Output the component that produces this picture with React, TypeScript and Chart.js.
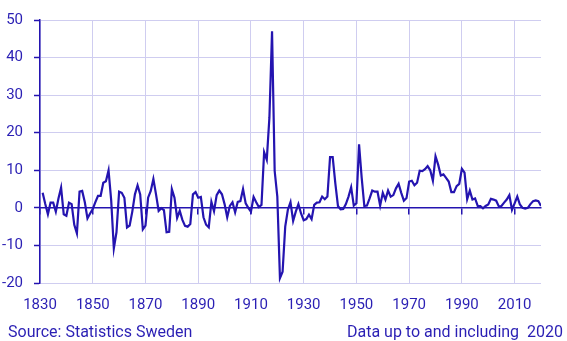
import React, { useEffect, useRef } from "react";
import { Chart, registerables } from "chart.js";

Chart.register(...registerables);

const BLUE = "#2414b0";
const TEXT = "#2a1fb4";
const GRID = "#cfcdf0";

const firstYear = 1831;
const tickYears = [1830, 1850, 1870, 1890, 1910, 1930, 1950, 1970, 1990, 2010];
const yTicks = [-20, -15, -10, -5, 0, 5, 10, 15, 20, 25, 30, 35, 40, 45, 50];

// Annual change in CPI (%), 1831–2020
const values1831_1880 = [
  4.0, 1.0, -1.7, 1.4, 1.4, -1.0, 2.5, 5.4, -1.7, -2.1,
  1.4, 1.0, -4.5, -6.8, 4.3, 4.5, 1.5, -2.8, -1.5, -0.3,
  1.5, 3.2, 3.2, 6.7, 7.1, 10.0, 2.0, -10.8, -6.5, 4.3,
  4.0, 2.7, -5.2, -4.7, -1.0, 3.6, 6.0, 3.6, -5.7, -4.7,
  2.7, 4.5, 7.7, 3.6, -0.8, -0.1, -0.6, -6.5, -6.4, 5.0,
];
const values1881_1930 = [
  2.7, -2.7, -0.8, -3.2, -4.8, -5.0, -4.3, 3.6, 4.2, 2.7,
  2.9, -2.5, -4.5, -5.2, 1.6, -0.9, 3.4, 4.6, 3.6, 1.0,
  -2.5, 0.5, 1.5, -1.2, 1.6, 1.8, 5.0, 1.2, 0.0, -1.0,
  2.9, 1.5, 0.2, 0.8, 14.8, 12.8, 24.0, 47.0, 9.8, 3.0,
  -18.7, -17.0, -5.0, -0.5, 1.5, -3.5, -1.0, 1.0, -1.5, -3.3,
];
const values1931_1980 = [
  -3.0, -1.8, -3.0, 0.8, 1.4, 1.5, 3.0, 2.3, 3.0, 13.5,
  13.5, 6.5, 0.5, -0.4, -0.3, 1.0, 3.0, 5.5, 0.6, 1.2,
  16.9, 8.0, 0.5, 0.6, 2.5, 4.6, 4.3, 4.3, 0.6, 4.0,
  2.2, 4.6, 3.0, 3.4, 5.2, 6.4, 4.0, 1.9, 2.6, 7.0,
  7.2, 6.0, 6.7, 9.9, 9.8, 10.3, 11.1, 10.0, 7.2, 13.7,
];
const values1981_2020 = [
  11.5, 8.6, 8.9, 8.0, 7.0, 4.2, 4.2, 5.8, 6.4, 10.4,
  9.4, 2.3, 4.6, 2.2, 2.5, 0.5, 0.5, -0.1, 0.5, 0.9,
  2.4, 2.2, 1.9, 0.4, 0.5, 1.4, 2.2, 3.4, -0.5, 1.2,
  3.0, 0.9, 0.0, -0.2, 0.0, 1.0, 1.8, 2.0, 1.8, 0.5,
];

const allValues = [...values1831_1880, ...values1881_1930, ...values1931_1980, ...values1981_2020];

const setYearTicks = (scale: any) => {
  scale.ticks = tickYears.map((v) => ({ value: v }));
};

export default function App() {
  const ref = useRef<HTMLCanvasElement | null>(null);

  useEffect(() => {
    if (!ref.current) return;
    const chart = new Chart(ref.current, {
      type: "line",
      data: {
        datasets: [
          {
            data: allValues.map((v, i) => ({ x: firstYear + i, y: v })),
            borderColor: BLUE,
            borderWidth: 2.2,
            pointRadius: 0,
            tension: 0,
            fill: false,
            xAxisID: "x",
            yAxisID: "y",
          },
        ],
      },
      options: {
        animation: false,
        responsive: false,
        devicePixelRatio: 1,
        layout: { padding: { left: 0, right: 26, top: 17, bottom: 0 } },
        plugins: { legend: { display: false }, tooltip: { enabled: false } },
        scales: {
          x: {
            type: "linear",
            min: 1830,
            max: 2020,
            afterBuildTicks: setYearTicks,
            afterFit: (s: any) => {
              s.height = 58;
            },
            grid: { color: GRID, lineWidth: 1, drawTicks: false },
            border: { display: false },
            ticks: {
              color: TEXT,
              font: { family: "Roboto", size: 15 },
              padding: 13,
              maxRotation: 0,
              autoSkip: false,
              callback: (v: any) => String(v),
            },
          },
          x2: {
            type: "linear",
            min: 1830,
            max: 2020,
            position: { y: 0 } as any,
            afterBuildTicks: setYearTicks,
            grid: {
              drawOnChartArea: false,
              drawTicks: true,
              tickLength: 6,
              color: BLUE,
              lineWidth: 1.5,
            },
            border: { display: true, color: BLUE, width: 1.5 },
            ticks: { display: false },
          },
          y: {
            type: "linear",
            min: -20,
            max: 50,
            afterBuildTicks: (s: any) => {
              s.ticks = yTicks.map((v) => ({ value: v }));
            },
            afterFit: (s: any) => {
              s.width = 40;
            },
            grid: {
              color: (c: any) => (c.tick && c.tick.value === 0 ? BLUE : GRID),
              lineWidth: 1,
              drawTicks: true,
              tickLength: 6,
              tickColor: BLUE,
              tickWidth: 1.5,
            },
            border: { display: true, color: BLUE, width: 1.5 },
            ticks: {
              color: TEXT,
              font: { family: "Roboto", size: 15 },
              padding: 11,
            },
          },
        },
      },
    });
    return () => chart.destroy();
  }, []);

  const footer: React.CSSProperties = {
    position: "absolute",
    top: 322,
    font: "16px Roboto",
    lineHeight: "19px",
    color: TEXT,
    whiteSpace: "pre",
  };

  return (
    <div style={{ position: "absolute", left: 0, top: 0, width: 567, height: 341, background: "#fff" }}>
      <canvas ref={ref} width={567} height={341} style={{ display: "block", width: 567, height: 341 }} />
      <div style={{ ...footer, left: 8 }}>Source: Statistics Sweden</div>
      <div style={{ ...footer, right: 4 }}>Data up to and including  2020</div>
    </div>
  );
}
